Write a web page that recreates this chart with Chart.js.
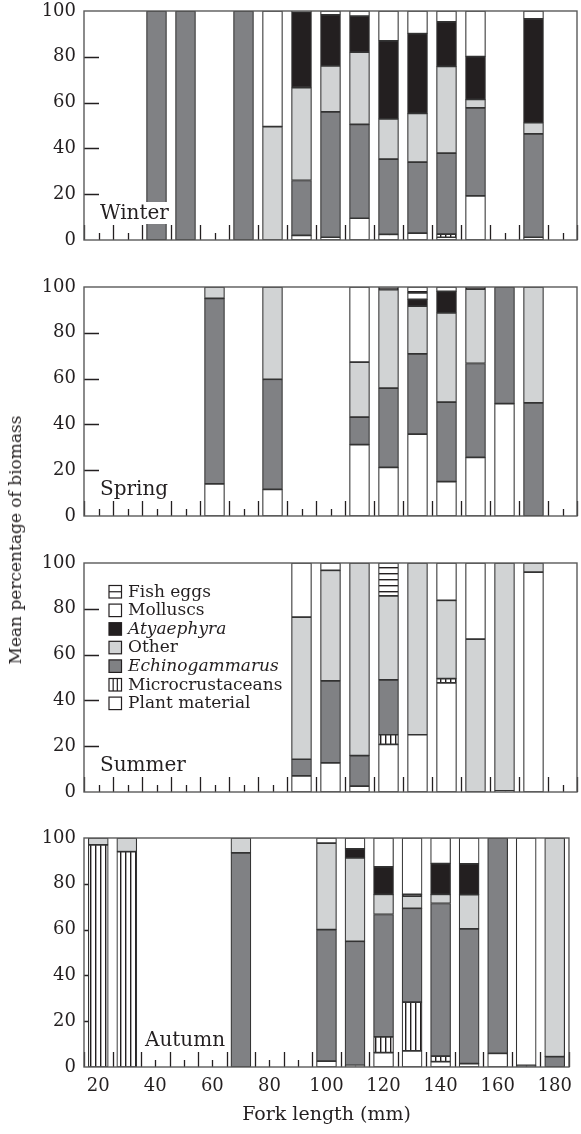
<!DOCTYPE html>
<html>
<head>
<meta charset="utf-8">
<title>Mean percentage of biomass by fork length</title>
<script src="https://cdn.jsdelivr.net/npm/chart.js@4.4.1/dist/chart.umd.min.js"></script>
<style>
  body { margin: 0; background: #fff; }
  #wrap { position: relative; width: 581px; height: 1134px; overflow: hidden; }
  #wrap canvas { position: absolute; left: 0; }
  #ytitle {
    position: absolute; left: 15px; top: 540px;
    transform: translate(-50%, -50%) rotate(-90deg);
    font: 17px "DejaVu Serif", serif; color: #231f20; white-space: nowrap;
  }
</style>
</head>
<body>
<div id="wrap">
  <canvas id="c0" width="581" height="269" style="top:-9px"></canvas>
  <canvas id="c1" width="581" height="269" style="top:266.5px"></canvas>
  <canvas id="c2" width="581" height="269" style="top:542.5px"></canvas>
  <canvas id="c3" width="581" height="316" style="top:818px"></canvas>
  <div id="ytitle">Mean percentage of biomass</div>
</div>
<script>
// stacking order, bottom to top
const categories = ['Plant material', 'Microcrustaceans', 'Echinogammarus', 'Other', 'Atyaephyra', 'Molluscs', 'Fish eggs'];
const legendOrder = ['Fish eggs', 'Molluscs', 'Atyaephyra', 'Other', 'Echinogammarus', 'Microcrustaceans', 'Plant material'];
const italicNames = ['Atyaephyra', 'Echinogammarus'];
const xTickLabels = [20, 40, 60, 80, 100, 120, 140, 160, 180];
const yTickLabels = [0, 20, 40, 60, 80, 100];

// Winter
const winterLength = [40, 50, 70, 80, 90, 100, 110, 120, 130, 140, 150, 170];
const winterPlant  = [0, 0, 0, 0, 2, 1.2, 9.5, 2.5, 3, 1.2, 19.3, 1.2];
const winterMicro  = [0, 0, 0, 0, 0, 0, 0, 0, 0, 1.4, 0, 0];
const winterEchino = [100, 100, 100, 0, 24, 54.7, 41, 32.8, 31, 35.3, 38.4, 45.1];
const winterOther  = [0, 0, 0, 49.5, 40.5, 20.1, 31.5, 17.6, 21.3, 37.9, 3.7, 4.9];
const winterAtya   = [0, 0, 0, 0, 33.2, 22.3, 15.8, 34.1, 34.8, 19.4, 18.7, 45.4];
const winterMoll   = [0, 0, 0, 50.5, 0.3, 1.7, 2.2, 13, 9.9, 4.8, 19.9, 3.4];
const winterFish   = [0, 0, 0, 0, 0, 0, 0, 0, 0, 0, 0, 0];

// Spring
const springLength = [60, 80, 110, 120, 130, 140, 150, 160, 170];
const springPlant  = [14, 11.6, 31.2, 21.2, 35.8, 15, 25.6, 49.1, 0];
const springMicro  = [0, 0, 0, 0, 0, 0, 0, 0, 0];
const springEchino = [81, 48.1, 12, 34.6, 35, 34.7, 41, 50.9, 49.4];
const springOther  = [5, 40.3, 24, 43, 20.9, 39, 32.5, 0, 50.6];
const springAtya   = [0, 0, 0, 0.8, 2.9, 9.4, 0.6, 0, 0];
const springMoll   = [0, 0, 32.8, 0.4, 2.8, 1.9, 0.3, 0, 0];
const springFish   = [0, 0, 0, 0, 2.6, 0, 0, 0, 0];

// Summer
const summerLength = [90, 100, 110, 120, 130, 140, 150, 160, 170];
const summerPlant  = [7, 12.7, 2.6, 20.8, 25, 47.7, 0, 0.5, 96];
const summerMicro  = [0, 0, 0, 4.2, 0, 1.8, 0, 0, 0];
const summerEchino = [7.3, 35.8, 13.3, 24, 0, 0, 0, 0, 0];
const summerOther  = [62.1, 48.3, 84.1, 36.6, 75, 34.2, 66.8, 99.5, 4];
const summerAtya   = [0, 0, 0, 0, 0, 0, 0, 0, 0];
const summerMoll   = [23.6, 3.2, 0, 0, 0, 16.3, 33.2, 0, 0];
const summerFish   = [0, 0, 0, 14.4, 0, 0, 0, 0, 0];

// Autumn
const autumnLength = [20, 30, 70, 100, 110, 120, 130, 140, 150, 160, 170, 180];
const autumnPlant  = [0, 0, 0, 2.6, 0.7, 6.3, 7, 2.3, 1.5, 6, 0, 0];
const autumnMicro  = [97, 94, 0, 0, 0, 6.9, 21.3, 2.5, 0, 0, 0, 0];
const autumnEchino = [0, 0, 93.5, 57.4, 54.2, 53.4, 41, 66.6, 58.8, 94, 0.7, 4.5];
const autumnOther  = [3, 6, 6.5, 37.8, 36.4, 8.8, 5.3, 4, 15, 0, 0, 95.5];
const autumnAtya   = [0, 0, 0, 0, 4, 12, 0.8, 13.4, 13.4, 0, 0, 0];
const autumnMoll   = [0, 0, 0, 2.2, 4.7, 12.6, 24.6, 11.2, 11.3, 0, 99.3, 0];
const autumnFish   = [0, 0, 0, 0, 0, 0, 0, 0, 0, 0, 0, 0];

const seasons = [
  { name: 'Winter', lengths: winterLength, values: [winterPlant, winterMicro, winterEchino, winterOther, winterAtya, winterMoll, winterFish] },
  { name: 'Spring', lengths: springLength, values: [springPlant, springMicro, springEchino, springOther, springAtya, springMoll, springFish] },
  { name: 'Summer', lengths: summerLength, values: [summerPlant, summerMicro, summerEchino, summerOther, summerAtya, summerMoll, summerFish] },
  { name: 'Autumn', lengths: autumnLength, values: [autumnPlant, autumnMicro, autumnEchino, autumnOther, autumnAtya, autumnMoll, autumnFish] }
];

const INK = '#231f20';
const FONT = '"DejaVu Serif", serif';

function linePattern(vertical, period) {
  const c = document.createElement('canvas');
  c.width = period; c.height = period;
  const g = c.getContext('2d');
  g.fillStyle = '#fff';
  g.fillRect(0, 0, period, period);
  g.fillStyle = INK;
  if (vertical) g.fillRect(0, 0, 1.4, period);
  else g.fillRect(0, 0, period, 1.4);
  return g.createPattern(c, 'repeat');
}

const microFill = linePattern(true, 5);
const fishFill = linePattern(false, 6);
const fills = {
  'Plant material': '#ffffff',
  'Microcrustaceans': microFill,
  'Echinogammarus': '#808184',
  'Other': '#d1d3d4',
  'Atyaephyra': INK,
  'Molluscs': '#ffffff',
  'Fish eggs': fishFill
};

// ticks inside the frame, frame, season name and legend
const panelDecor = {
  id: 'panelDecor',
  beforeDatasetsDraw(chart) {
    const { ctx, chartArea: a, scales: { x, y } } = chart;
    ctx.save();
    ctx.strokeStyle = INK;
    ctx.lineWidth = 1.3;
    ctx.beginPath();
    for (let v = 15; v <= 185; v += 5) {
      const px = Math.round(x.getPixelForValue(v)) + 0.5;
      const len = v % 10 === 5 ? 15 : 7;
      ctx.moveTo(px, a.bottom);
      ctx.lineTo(px, a.bottom - len);
    }
    for (let v = 20; v < 100; v += 20) {
      const py = Math.round(y.getPixelForValue(v)) + 0.5;
      ctx.moveTo(a.left, py);
      ctx.lineTo(a.left + 15, py);
    }
    ctx.stroke();
    ctx.restore();
  },
  afterDatasetsDraw(chart, args, opts) {
    const { ctx, chartArea: a } = chart;
    ctx.save();
    // season name on a white patch
    ctx.font = '20px ' + FONT;
    ctx.textBaseline = 'alphabetic';
    const w = ctx.measureText(opts.season).width;
    const lx = a.left + opts.labelOffset;
    const ly = a.bottom - 21;
    ctx.fillStyle = '#fff';
    ctx.fillRect(lx - 3, ly - 17, w + 6, 22);
    ctx.fillStyle = INK;
    ctx.fillText(opts.season, lx, ly);

    // frame
    ctx.strokeStyle = '#5a5a5a';
    ctx.lineWidth = 1.4;
    ctx.strokeRect(a.left, a.top, a.right - a.left, a.bottom - a.top);

    if (opts.legend) {
      const bx = a.left + 25, top0 = a.top + 22.5, pitch = 18.6, s = 12.5;
      legendOrder.forEach((name, i) => {
        const by = top0 + i * pitch;
        ctx.fillStyle = name === 'Atyaephyra' ? INK : fills[name] === microFill || fills[name] === fishFill ? '#fff' : fills[name];
        ctx.fillRect(bx, by, s, s);
        ctx.strokeStyle = INK;
        ctx.lineWidth = 1.2;
        ctx.strokeRect(bx, by, s, s);
        ctx.beginPath();
        if (name === 'Fish eggs') {
          ctx.moveTo(bx, by + s / 2); ctx.lineTo(bx + s, by + s / 2);
        } else if (name === 'Microcrustaceans') {
          ctx.moveTo(bx + s / 3, by); ctx.lineTo(bx + s / 3, by + s);
          ctx.moveTo(bx + 2 * s / 3, by); ctx.lineTo(bx + 2 * s / 3, by + s);
        }
        ctx.stroke();
        ctx.fillStyle = INK;
        ctx.font = (italicNames.includes(name) ? 'italic ' : '') + '17px ' + FONT;
        ctx.textBaseline = 'middle';
        ctx.fillText(name, bx + 19, by + s / 2 + 0.5);
      });
    }
    ctx.restore();
  }
};

function makeChart(idx) {
  const season = seasons[idx];
  const last = idx === seasons.length - 1;
  const datasets = categories.map((cat, k) => ({
    label: cat,
    data: season.lengths.map((len, i) => ({ x: len, y: season.values[k][i] || null })),
    backgroundColor: fills[cat],
    borderColor: '#333',
    borderWidth: 1.2,
    borderSkipped: false,
    barThickness: 20
  }));

  return new Chart(document.getElementById('c' + idx), {
    type: 'bar',
    data: { datasets },
    plugins: [panelDecor],
    options: {
      responsive: false,
      animation: false,
      devicePixelRatio: 1,
      layout: { padding: { top: 20, right: 4, left: 0, bottom: last ? 0 : 20 } },
      plugins: {
        legend: { display: false },
        tooltip: { enabled: false },
        panelDecor: { season: season.name, labelOffset: season.name === 'Autumn' ? 61 : 16, legend: season.name === 'Summer' }
      },
      scales: {
        x: {
          type: 'linear',
          min: 15,
          max: 185,
          offset: false,
          stacked: true,
          display: last,
          grid: { display: false, drawTicks: false, offset: false },
          border: { display: false },
          afterBuildTicks: (scale) => { scale.ticks = xTickLabels.map(v => ({ value: v })); },
          afterFit: (scale) => { scale.height = last ? 67 : 0; },
          ticks: { font: { family: FONT, size: 18 }, color: INK, padding: 9, maxRotation: 0 },
          title: { display: true, text: 'Fork length (mm)', font: { family: FONT, size: 19 }, color: INK, padding: { top: 0, bottom: 8 } }
        },
        y: {
          min: 0,
          max: 100,
          stacked: true,
          grid: { display: false, drawTicks: false },
          border: { display: false },
          afterBuildTicks: (scale) => { scale.ticks = yTickLabels.map(v => ({ value: v })); },
          afterFit: (scale) => { scale.width = 84; },
          ticks: { font: { family: FONT, size: 18 }, color: INK, padding: 8 }
        }
      }
    }
  });
}

seasons.forEach((s, i) => makeChart(i));
</script>
</body>
</html>
